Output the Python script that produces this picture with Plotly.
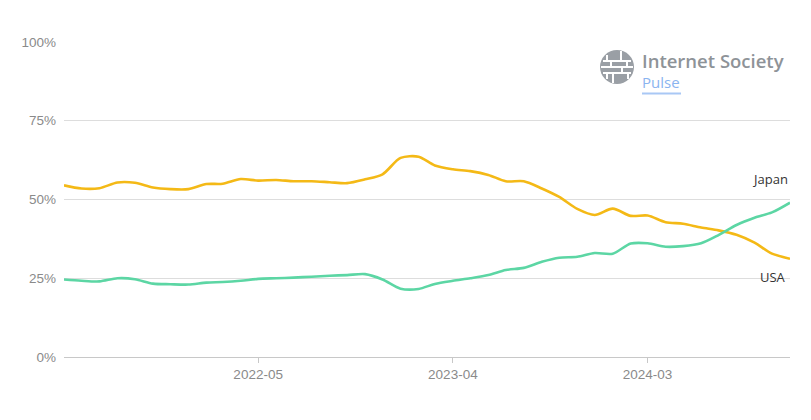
import plotly.graph_objects as go
import pandas as pd

months = pd.date_range("2021-06-01", "2024-11-01", freq="MS")

japan = [54.5, 53.5, 53.6, 55.4, 55.3, 53.8, 53.3, 53.3, 54.9, 55.0,
         56.5, 56.0, 56.2, 55.8, 55.8, 55.5, 55.2, 56.4, 58.0, 63.2,
         63.6, 60.8, 59.6, 59.0, 57.8, 55.8, 55.8, 53.5, 50.8, 47.0,
         45.1, 47.1, 44.8, 44.9, 42.8, 42.3, 41.1, 40.2, 38.8, 36.3,
         32.8, 31.2]

usa = [24.6, 24.2, 24.0, 25.0, 24.7, 23.3, 23.1, 23.0, 23.6, 23.8,
       24.2, 24.8, 25.0, 25.2, 25.5, 25.8, 26.0, 26.3, 24.6, 21.7,
       21.6, 23.2, 24.2, 25.0, 26.0, 27.6, 28.3, 30.2, 31.5, 31.8,
       33.0, 32.8, 36.0, 36.1, 35.0, 35.2, 36.1, 38.7, 41.9, 44.2,
       45.9, 49.0]

y_ticks = [0, 25, 50, 75, 100]
y_tick_labels = ["0%", "25%", "50%", "75%", "100%"]
x_ticks = ["2022-05-01", "2023-04-01", "2024-03-01"]
x_tick_labels = ["2022-05", "2023-04", "2024-03"]

JAPAN_COLOR = "#F4B916"
USA_COLOR = "#5CD6A4"

# The page body has an 8px margin, so the figure is laid out 8px smaller / offset
OFF = 8
W, H = 811 - OFF, 420 - OFF
L, R, T, B = 64 - OFF, 21, 42 - OFF, 63
pw, ph = W - L - R, H - T - B

def px(xp):
    return (xp - OFF - L) / pw

def py(yp):
    return (H - B - (yp - OFF)) / ph

fig = go.Figure()
fig.add_trace(go.Scatter(x=months, y=japan, mode="lines", name="Japan",
                         line=dict(color=JAPAN_COLOR, width=2.6, shape="spline", smoothing=0.8)))
fig.add_trace(go.Scatter(x=months, y=usa, mode="lines", name="USA",
                         line=dict(color=USA_COLOR, width=2.6, shape="spline", smoothing=0.8)))

# End labels (as in the reference, placed on the right)
fig.add_annotation(x=1, xref="paper", y=56.5, yref="y", text="Japan", showarrow=False,
                   xanchor="right", yanchor="middle",
                   font=dict(family="Open Sans, Noto Sans", size=13, color="#333333"))
fig.add_annotation(x=1, xref="paper", y=25.3, yref="y", text="USA", showarrow=False,
                   xanchor="right", yanchor="middle", xshift=-2,
                   font=dict(family="Open Sans, Noto Sans", size=13, color="#333333"))

# Logo: Internet Society Pulse (one two-line text block)
fig.add_annotation(x=px(640), xref="paper", y=py(70), yref="paper",
                   text=("<span style='font-size:18.5px;font-weight:600;color:#8E9398'>Internet Society</span>"
                         "<br><span style='font-size:15px;color:#8AB4F0'>Pulse</span>"),
                   showarrow=False, xanchor="left", yanchor="middle", align="left",
                   font=dict(family="Open Sans", size=15, color="#8E9398"))
fig.add_shape(type="line", xref="paper", yref="paper",
              x0=px(642), x1=px(681), y0=py(93.5), y1=py(93.5),
              line=dict(color="#A9C8F5", width=2))

# Globe icon
cx, cy, r = 617, 67, 17
fig.add_shape(type="circle", xref="paper", yref="paper",
              xsizemode="pixel", ysizemode="pixel", xanchor=px(cx), yanchor=py(cy),
              x0=-r, x1=r, y0=-r, y1=r, fillcolor="#9A9FA5", line=dict(width=0))
segs = [
    (-14, -6, 14, -6), (-16, 0, 16, 0), (-14, 6, 14, 6),
    (-4, -16, -4, -6), (5, -6, 5, 0), (-6, 0, -6, 6), (4, 6, 4, 16),
    (-10, -12, -10, -6), (10, 0, 10, 6), (-10, 6, -10, 12), (11, -12, 11, -6),
]
for (a, b, c, d) in segs:
    fig.add_shape(type="line", xref="paper", yref="paper",
                  xsizemode="pixel", ysizemode="pixel", xanchor=px(cx), yanchor=py(cy),
                  x0=a, x1=c, y0=b, y1=d, line=dict(color="white", width=2))

fig.update_layout(
    width=W, height=H,
    margin=dict(l=L, r=R, t=T, b=B),
    plot_bgcolor="white", paper_bgcolor="white",
    showlegend=False,
    font=dict(family="Liberation Sans, Arial", size=13.5, color="#8a8a8a"),
)
fig.update_yaxes(range=[0, 100], tickvals=y_ticks, ticktext=y_tick_labels,
                 showgrid=True, gridcolor="#DDDDDD", gridwidth=1, zeroline=False,
                 showline=False, ticks="", ticklabelstandoff=7,
                 tickfont=dict(family="Liberation Sans, Arial", size=13.5, color="#8a8a8a"))
fig.update_xaxes(range=["2021-06-01", "2024-11-01"], tickvals=x_ticks, ticktext=x_tick_labels,
                 showgrid=False, zeroline=False, showline=True, linecolor="#C8C8C8", linewidth=1,
                 ticks="outside", ticklen=5, tickcolor="#C8C8C8",
                 tickfont=dict(family="Liberation Sans, Arial", size=13.5, color="#8a8a8a"))

fig.write_html("out.html")
